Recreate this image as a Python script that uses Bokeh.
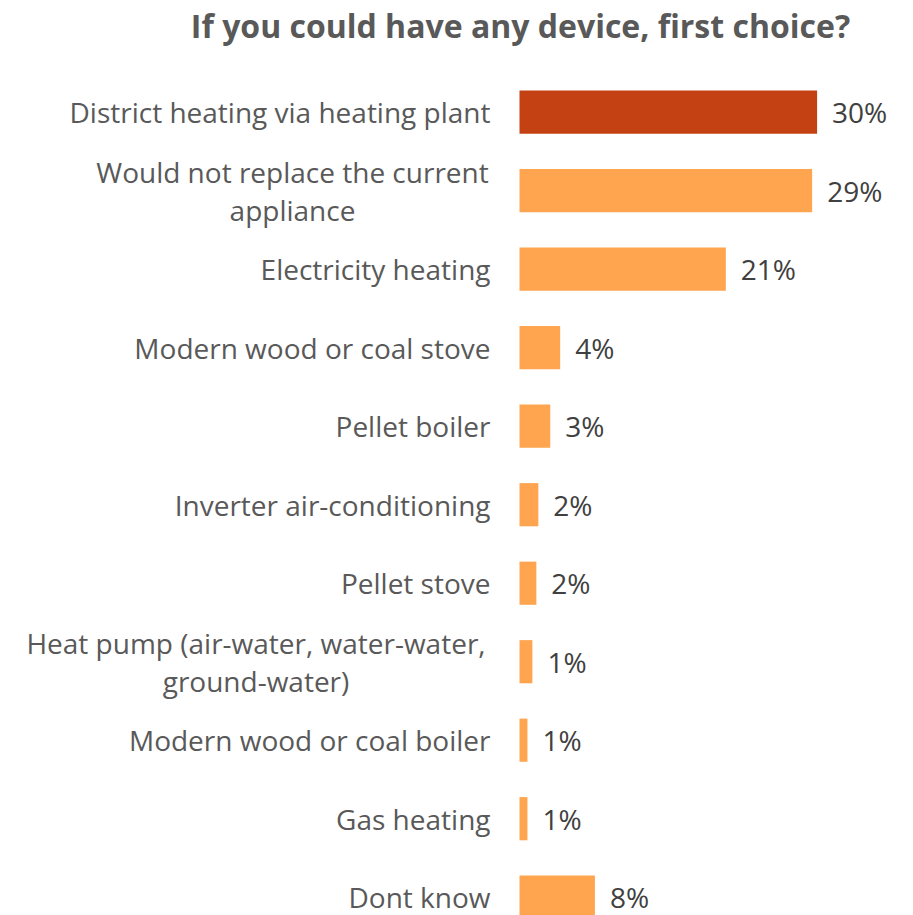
from bokeh.plotting import figure
from bokeh.models import ColumnDataSource, Range1d, Label
from bokeh.core.properties import value
from bokeh.embed import file_html
from bokeh.resources import INLINE

# ---- data ----
categories = [
    "District heating via heating plant",
    "Would not replace the current\nappliance",
    "Electricity heating",
    "Modern wood or coal stove",
    "Pellet boiler",
    "Inverter air-conditioning",
    "Pellet stove",
    "Heat pump (air-water, water-water,\nground-water)",
    "Modern wood or coal boiler",
    "Gas heating",
    "Dont know",
]
shares = [30.0, 29.5, 20.8, 4.1, 3.1, 1.9, 1.7, 1.3, 0.8, 0.8, 7.6]
share_labels = ["30%", "29%", "21%", "4%", "3%", "2%", "2%", "1%", "1%", "1%", "8%"]
highlight = "District heating via heating plant"
title_text = "If you could have any device, first choice?"

# ---- style / layout ----
HL_COLOR = "#C44114"
BAR_COLOR = "#FFA54F"
LABEL_COLOR = "#595959"
VALUE_COLOR = "#404040"
FONT = "Open Sans"
LABEL_SIZE = "28px"
W, H = 913, 915
PX_PER_UNIT_X = 9.92
BAR_ORIGIN_PX = 519
BAND_PX = 78.5
FIRST_CENTER_PX = 111.7
# centre of two-line label blocks (px left of bar origin)
TWO_LINE_CENTER_OFFSET = {1: -227, 7: -263.5}

pos = list(range(len(categories)))
colors = [HL_COLOR if c == highlight else BAR_COLOR for c in categories]

x0 = -BAR_ORIGIN_PX / PX_PER_UNIT_X
x1 = x0 + W / PX_PER_UNIT_X
y_top = -FIRST_CENTER_PX / BAND_PX
y_bot = y_top + H / BAND_PX

p = figure(width=W, height=H, output_backend="svg", toolbar_location=None,
           x_range=Range1d(x0, x1), y_range=Range1d(y_bot, y_top),
           x_axis_location=None, y_axis_location=None, min_border=0,
           outline_line_color=None, tools="")
p.grid.visible = False
p.background_fill_color = "white"

src = ColumnDataSource(dict(pos=pos, share=shares, color=colors, lab=share_labels))
p.hbar(y="pos", right="share", left=0, height=0.55, fill_color="color",
       line_color=None, source=src)

p.text(x="share", y="pos", text="lab", source=src, x_offset=15,
       text_align="left", text_baseline="middle", text_color=VALUE_COLOR,
       text_font=value(FONT), text_font_size=LABEL_SIZE)

# category labels
s_y, s_t = [], []
m_y, m_t, m_off = [], [], []
for i, c in enumerate(categories):
    lines = c.split("\n")
    if len(lines) == 1:
        s_y.append(i); s_t.append(c)
    else:
        n = len(lines)
        for k, ln in enumerate(lines):
            m_y.append(i + (k - (n - 1) / 2) * 38 / BAND_PX)
            m_t.append(ln)
            m_off.append(TWO_LINE_CENTER_OFFSET[i])

p.text(x=0, y="y", text="t", source=ColumnDataSource(dict(y=s_y, t=s_t)),
       x_offset=-29, text_align="right", text_baseline="middle",
       text_color=LABEL_COLOR, text_font=value(FONT), text_font_size=LABEL_SIZE)
p.text(x=0, y="y", text="t", x_offset="off",
       source=ColumnDataSource(dict(y=m_y, t=m_t, off=m_off)),
       text_align="center", text_baseline="middle",
       text_color=LABEL_COLOR, text_font=value(FONT), text_font_size=LABEL_SIZE)

p.add_layout(Label(x=520, y=H - 25, x_units="screen", y_units="screen",
                   text=title_text, text_align="center", text_baseline="middle",
                   text_font=FONT, text_font_style="bold", text_font_size="32px",
                   text_color=LABEL_COLOR))

open("out.html", "w").write(file_html(p, INLINE))
